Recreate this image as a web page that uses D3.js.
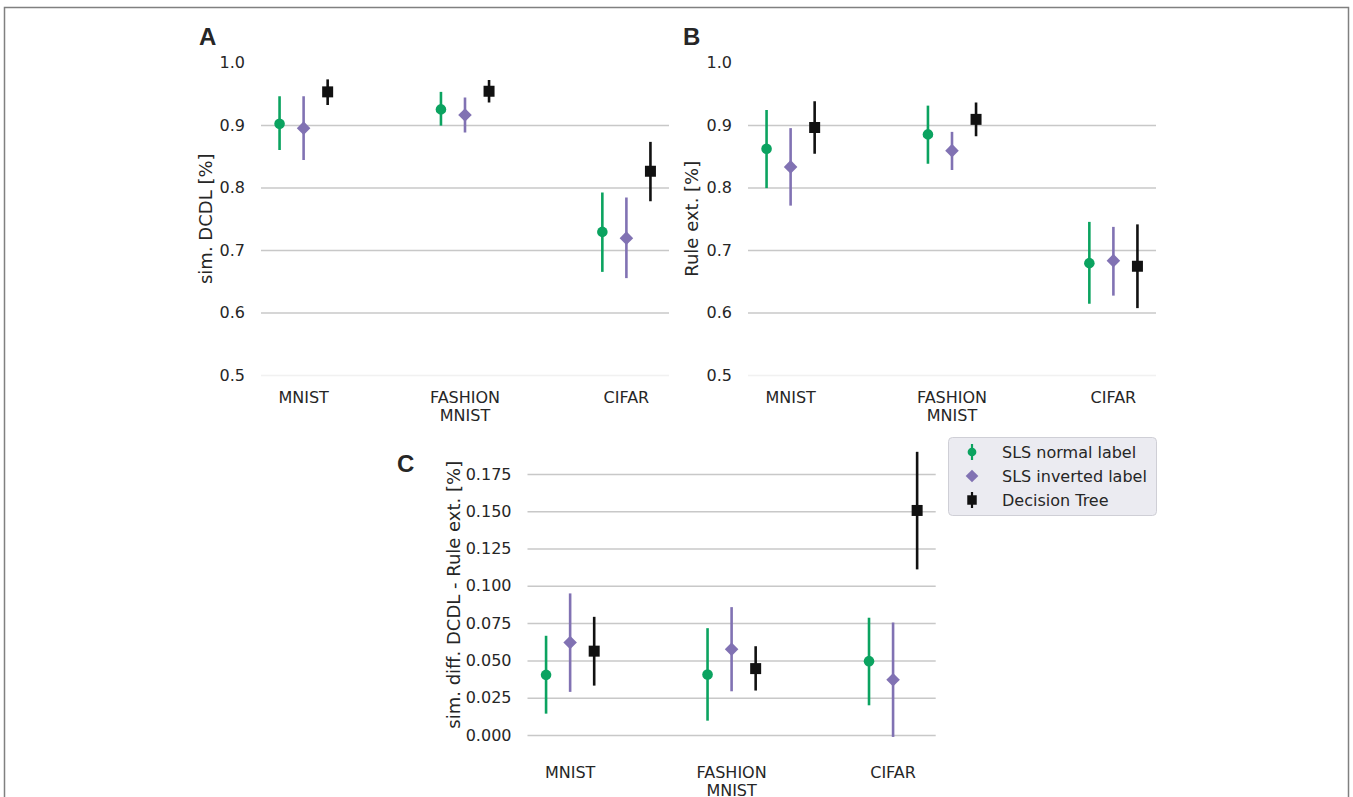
<!DOCTYPE html>
<html lang="en">
<head>
  <meta charset="UTF-8">
  <title>DCDL vs Rule extraction</title>
  <script src="https://d3js.org/d3.v7.min.js"></script>
  <style>
    body {
      margin: 0;
      background: #fff;
      font-family: "DejaVu Sans", sans-serif;
    }
    svg text {
      fill: #262626;
    }
  </style>
</head>
<body>
  <svg width="1353" height="797"></svg>

  <script>
    // categories and series
    const categories = [["MNIST"], ["FASHION", "MNIST"], ["CIFAR"]];
    const seriesNames = ["SLS normal label", "SLS inverted label", "Decision Tree"];
    const seriesColors = ["#0ba360", "#8172b3", "#111111"];
    const seriesShapes = ["circle", "diamond", "square"];

    // Panel A: sim. DCDL (rows = series, cols = categories)
    const dcdlMean = [[0.902, 0.925, 0.729], [0.895, 0.916, 0.719], [0.953, 0.954, 0.826]];
    const dcdlLow  = [[0.860, 0.899, 0.665], [0.844, 0.888, 0.655], [0.932, 0.936, 0.778]];
    const dcdlHigh = [[0.946, 0.953, 0.792], [0.946, 0.944, 0.784], [0.973, 0.972, 0.873]];

    // Panel B: Rule ext.
    const ruleMean = [[0.862, 0.885, 0.679], [0.833, 0.859, 0.683], [0.896, 0.909, 0.674]];
    const ruleLow  = [[0.799, 0.838, 0.614], [0.771, 0.828, 0.627], [0.854, 0.882, 0.607]];
    const ruleHigh = [[0.924, 0.931, 0.745], [0.895, 0.889, 0.737], [0.938, 0.936, 0.741]];

    // Panel C: sim. diff. DCDL - Rule ext.
    const diffMean = [[0.0403, 0.0405, 0.0495], [0.0620, 0.0575, 0.0370], [0.0562, 0.0445, 0.1505]];
    const diffLow  = [[0.0143, 0.0096, 0.0199], [0.0289, 0.0293, -0.0013], [0.0331, 0.0298, 0.1110]];
    const diffHigh = [[0.0665, 0.0716, 0.0786], [0.0949, 0.0857, 0.0754], [0.0792, 0.0595, 0.1898]];

    const ticksAB = [0.5, 0.6, 0.7, 0.8, 0.9, 1.0];
    const ticksC = [0.000, 0.025, 0.050, 0.075, 0.100, 0.125, 0.150, 0.175];

    const dodge = [-0.149, 0, 0.149];

    const panels = [
      { letter: "A", lx: 199, ly: 45, xr: [261, 669], yd: [0.5, 1.0], yr: [375, 62.5],
        ticks: ticksAB, fmt: ".1f", ylabel: "sim. DCDL [%]", ylabX: 205.5,
        mean: dcdlMean, low: dcdlLow, high: dcdlHigh, catY: 403, hideTop: true, faintBottom: true },
      { letter: "B", lx: 683, ly: 45, xr: [748, 1156], yd: [0.5, 1.0], yr: [375, 62.5],
        ticks: ticksAB, fmt: ".1f", ylabel: "Rule ext. [%]", ylabX: 691,
        mean: ruleMean, low: ruleLow, high: ruleHigh, catY: 403, hideTop: true, faintBottom: true },
      { letter: "C", lx: 397, ly: 472, xr: [527.5, 935.7], yd: [-0.0116, 0.1996], yr: [752.3, 437.2],
        ticks: ticksC, fmt: ".3f", ylabel: "sim. diff. DCDL - Rule ext. [%]", ylabX: 453,
        mean: diffMean, low: diffLow, high: diffHigh, catY: 778, hideTop: false, faintBottom: false }
    ];

    const svg = d3.select("svg");

    // outer frame
    svg.append("rect")
      .attr("x", 4.5).attr("y", 7.5)
      .attr("width", 1344).attr("height", 820)
      .attr("fill", "none")
      .attr("stroke", "#808080")
      .attr("stroke-width", 1.5);

    function markerPath(shape, big) {
      if (shape === "circle") return d3.symbol(d3.symbolCircle, big ? 88 : 60)();
      if (shape === "diamond") return d3.symbol(d3.symbolSquare, big ? 92 : 80)();
      return d3.symbol(d3.symbolSquare, big ? 121 : 90)();
    }

    panels.forEach(p => {
      const x = d3.scaleLinear().domain([-0.264, 2.264]).range(p.xr);
      const y = d3.scaleLinear().domain(p.yd).range(p.yr);
      const g = svg.append("g");

      // y axis with gridlines
      const axis = g.append("g")
        .attr("transform", `translate(${p.xr[0]},0)`)
        .call(d3.axisLeft(y)
          .tickValues(p.ticks)
          .tickFormat(d3.format(p.fmt))
          .tickSize(-(p.xr[1] - p.xr[0]))
          .tickPadding(16));
      axis.select(".domain").remove();
      axis.selectAll(".tick line")
        .attr("stroke", "#c8c8c8")
        .attr("stroke-width", 1.5)
        .attr("stroke-opacity", (d, i) => {
          if (p.hideTop && i === p.ticks.length - 1) return 0;
          if (p.faintBottom && i === 0) return 0.25;
          return 1;
        });
      axis.selectAll(".tick text")
        .attr("font-size", "16px")
        .attr("font-family", "DejaVu Sans, sans-serif")
        .attr("fill", "#262626");

      // category labels
      categories.forEach((c, ci) => {
        const t = g.append("text")
          .attr("x", x(ci))
          .attr("y", p.catY)
          .attr("text-anchor", "middle")
          .attr("font-size", "16px");
        c.forEach((line, li) => {
          t.append("tspan")
            .attr("x", x(ci))
            .attr("dy", li === 0 ? 0 : 18)
            .text(line);
        });
      });

      // y label
      g.append("text")
        .attr("transform", `translate(${p.ylabX},${(p.yr[0] + p.yr[1]) / 2}) rotate(-90)`)
        .attr("text-anchor", "middle")
        .attr("dominant-baseline", "central")
        .attr("font-size", "18px")
        .text(p.ylabel);

      // panel letter
      g.append("text")
        .attr("x", p.lx)
        .attr("y", p.ly)
        .attr("font-family", "Liberation Sans, Arial, sans-serif")
        .attr("font-weight", "bold")
        .attr("font-size", "24px")
        .attr("fill", "#000")
        .text(p.letter);

      // points and error bars
      seriesNames.forEach((s, si) => {
        const sg = g.append("g");
        categories.forEach((c, ci) => {
          const cx = x(ci + dodge[si]);
          sg.append("line")
            .attr("x1", cx).attr("x2", cx)
            .attr("y1", y(p.low[si][ci]))
            .attr("y2", y(p.high[si][ci]))
            .attr("stroke", seriesColors[si])
            .attr("stroke-width", 2.6);
        });
        categories.forEach((c, ci) => {
          const cx = x(ci + dodge[si]);
          sg.append("path")
            .attr("d", markerPath(seriesShapes[si], true))
            .attr("transform", `translate(${cx},${y(p.mean[si][ci])})` +
              (seriesShapes[si] === "diamond" ? " rotate(45)" : ""))
            .attr("fill", seriesColors[si]);
        });
      });
    });

    // legend
    const leg = svg.append("g");
    leg.append("rect")
      .attr("x", 948.5).attr("y", 437.5)
      .attr("width", 208).attr("height", 78)
      .attr("rx", 4)
      .attr("fill", "#ebebf1")
      .attr("stroke", "#cfcfd6");
    seriesNames.forEach((s, si) => {
      const ry = 452 + si * 24;
      if (seriesShapes[si] !== "diamond") {
        leg.append("line")
          .attr("x1", 972).attr("x2", 972)
          .attr("y1", ry - 8).attr("y2", ry + 8)
          .attr("stroke", seriesColors[si])
          .attr("stroke-width", 2.2);
      }
      leg.append("path")
        .attr("d", markerPath(seriesShapes[si], false))
        .attr("transform", `translate(972,${ry})` + (seriesShapes[si] === "diamond" ? " rotate(45)" : ""))
        .attr("fill", seriesColors[si]);
      leg.append("text")
        .attr("x", 1002)
        .attr("y", ry)
        .attr("dominant-baseline", "central")
        .attr("font-size", "16px")
        .text(s);
    });
  </script>
</body>
</html>
